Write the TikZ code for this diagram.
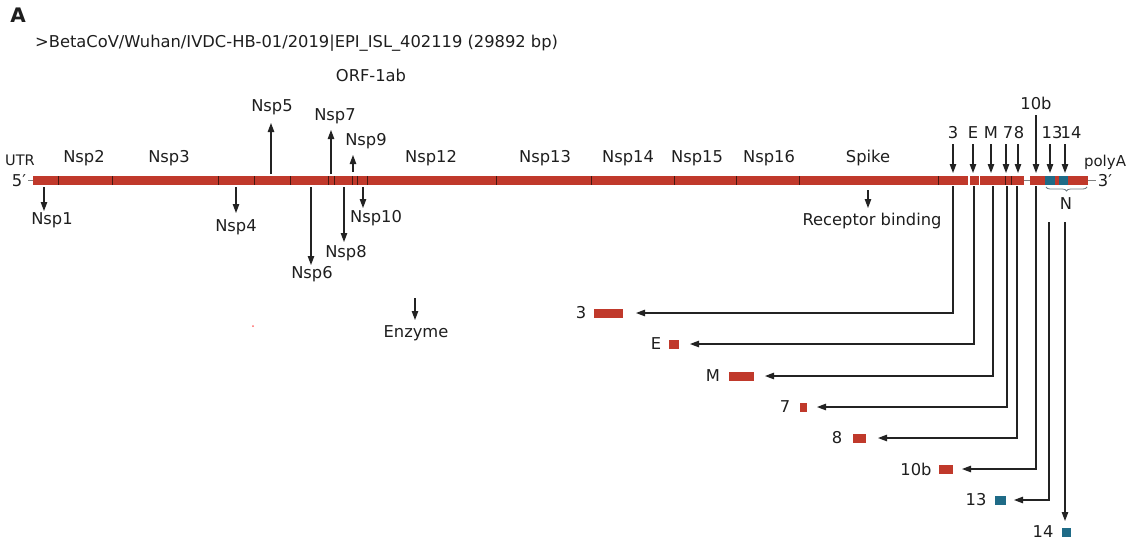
\documentclass[tikz,border=0pt]{standalone}
\usepackage{fontspec}
\setmainfont{DejaVu Sans}
\usetikzlibrary{arrows.meta,decorations.pathreplacing}
\definecolor{gred}{RGB}{192,57,43}
\definecolor{gteal}{RGB}{31,107,135}
\definecolor{ln}{RGB}{35,35,35}
\definecolor{tk}{RGB}{70,25,18}
\definecolor{txt}{RGB}{30,30,30}
\begin{document}
\begin{tikzpicture}[x=1pt,y=-1pt,
  font=\fontsize{16.3}{18}\selectfont, text=txt,
  lbl/.style={inner sep=0pt},
  arr/.style={draw=ln, line width=1.1pt, -{Triangle[length=9pt,width=6.5pt]}},
  tick/.style={draw=tk, line width=1pt},
  blk/.style={inner sep=0pt, minimum height=9pt, anchor=west}]
\useasboundingbox (0,0) rectangle (1128,544);
% header
\node[lbl, font=\fontsize{20}{22}\selectfont\bfseries] (hA) at (18,15) {A};
\node[lbl, anchor=west] (title) at (35,43) {>BetaCoV/Wuhan/IVDC-HB-01/2019|EPI\_ISL\_402119 (29892 bp)};
\node[lbl] (orf) at (371,75) {ORF-1ab};
% genome bar
\fill[gred] (33,176) rectangle (968,185);
\fill[gred] (970,176) rectangle (979,185);
\fill[gred] (980,176) rectangle (1024,185);
\fill[gred] (1030,176) rectangle (1088,185);
\fill[gteal] (1045,176) rectangle (1055,185);
\fill[gteal] (1059,176) rectangle (1068,185);
\foreach \t in {58,112,218,254,290,328,334,352,357,367,496,591,674,736,799,938,1005,1011}
  \draw[tick] (\t,176) -- (\t,185);
\draw[gray, line width=1pt] (28,180.5) -- (33,180.5);
\draw[gray, line width=1pt] (1024,180.5) -- (1030,180.5);
\draw[gray, line width=1pt] (1088,180.5) -- (1096,180.5);
\node[lbl, font=\fontsize{14.5}{16}\selectfont] (utr) at (20,160) {UTR};
\node[lbl] (five) at (19,181) {5′};
\node[lbl] (three) at (1105,181) {3′};
\node[lbl, font=\fontsize{15}{16}\selectfont] (polya) at (1105,162) {polyA};
% segment names
\node[lbl] (nsp2) at (84,158) {Nsp2};
\node[lbl] (nsp3) at (169,158) {Nsp3};
\node[lbl] (nsp12) at (431,158) {Nsp12};
\node[lbl] (nsp13) at (545,158) {Nsp13};
\node[lbl] (nsp14) at (628,158) {Nsp14};
\node[lbl] (nsp15) at (697,158) {Nsp15};
\node[lbl] (nsp16) at (769,158) {Nsp16};
\node[lbl] (spike) at (868,158) {Spike};
% nsp arrows
\foreach \n/\ax/\ya/\yb/\lx/\ly/\t in {
  n1/44/187/211/52/220/Nsp1,
  n4/236/187/213/236/227/Nsp4,
  n5/271/174/123/272/107/Nsp5,
  n6/311/187/265/312/274/Nsp6,
  n7/331/174/130/335/116/Nsp7,
  n8/344/187/242/346/253/Nsp8,
  n9/353/172/155/366/141/Nsp9,
  n10/363/187/208/376/218/Nsp10,
  enz/415/298/320/416/333/Enzyme,
  rb/868/190/208/872/221/Receptor binding}
{
  \node[lbl] (\n) at (\lx,\ly) {\t};
  \coordinate (\n s) at (\ax,\ya);
  \coordinate (\n e) at (\ax,\yb);
  \draw[arr] (\n s) -- (\n e);
}
% ORF arrows from above
\foreach \n/\ax/\lx/\ys/\ly/\t in {
  o3/953/953/144/133/3, oE/973/973/144/133/E, oM/991/991/144/133/M, o7/1006/1008/144/133/7,
  o8/1018/1019/144/133/8, o10/1036/1036/115/103/10b, o13/1050/1052/144/133/13, o14/1065/1071/144/133/14}
{
  \node[lbl] (\n) at (\lx,\ly) {\t};
  \coordinate (\n s) at (\ax,\ys);
  \coordinate (\n e) at (\ax,173);
  \draw[arr] (\n s) -- (\n e);
}
% N brace
\draw[decorate, decoration={brace, amplitude=4pt, mirror}, draw=gray!80!gteal, line width=0.8pt] (1046,187) -- (1087,187);
\node[lbl] (nlab) at (1066,204) {N};
% expressed products
\foreach \vx/\vy/\ry/\bx/\bw/\lx/\tx/\t/\c [count=\i] in {
  953/186/313/594/29/581/636/3/gred,
  974/186/344/669/10/656/690/E/gred,
  993/186/376/729/25/713/765/M/gred,
  1007/186/407/800/7/785/817/7/gred,
  1017/186/438/853/13/837/878/8/gred,
  1036/186/469/939/14/916/962/10b/gred,
  1049/222/500/995/11/976/1014/13/gteal}
{
  \node[blk, fill=\c, minimum width=\bw pt] (r\i) at (\bx,\ry) {};
  \node[lbl] (l\i) at (\lx,\ry) {\t};
  \coordinate (s\i) at (\vx,\vy);
  \coordinate (t\i) at (\tx,\ry);
  \draw[arr] (s\i) |- (t\i);
}
\node[inner sep=0pt, fill=gteal, minimum width=9pt, minimum height=9pt] (r8) at (1066.5,532) {};
\node[lbl] (l8) at (1043,532) {14};
\coordinate (s8) at (1065,222);
\coordinate (t8) at (1065,521);
\draw[arr] (s8) -- (t8);
% stray dot
\fill[red!60!white] (253,326) circle (1);
\end{tikzpicture}
\end{document}
